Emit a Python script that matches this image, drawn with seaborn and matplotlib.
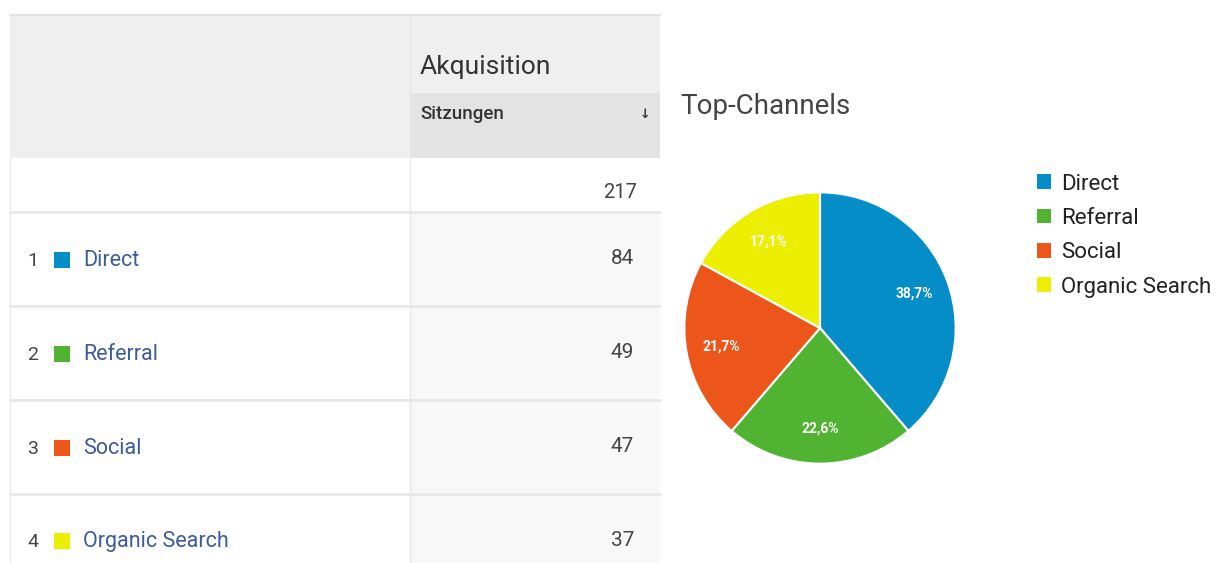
import matplotlib
matplotlib.use("Agg")
import matplotlib.pyplot as plt
from matplotlib.patches import Rectangle, Patch
import seaborn as sns

# ---- data ----
channels = ["Direct", "Referral", "Social", "Organic Search"]
sessions = [84, 49, 47, 37]
total_sessions = 217
channel_colors = ["#058DC7", "#50B432", "#ED561B", "#EDEF00"]
group_header = "Akquisition"
metric_header = "Sitzungen"
chart_title = "Top-Channels"

sns.set_theme(style="white")
plt.rcParams["font.family"] = ["Roboto", "DejaVu Sans"]
palette = sns.color_palette(channel_colors)

W, H = 1220, 563
fig = plt.figure(figsize=(W / 100, H / 100), dpi=100)
fig.patch.set_facecolor("white")

# pixel overlay axes for the table
tab = fig.add_axes([0, 0, 1, 1])
tab.set_xlim(0, W)
tab.set_ylim(H, 0)
tab.axis("off")

def rect(x0, y0, x1, y1, color, z=1):
    tab.add_patch(Rectangle((x0, y0), x1 - x0, y1 - y0, facecolor=color,
                            edgecolor="none", zorder=z))

# header
rect(10, 15, 660, 158, "#efefef")
rect(410, 93, 660, 158, "#e3e3e3")
tab.plot([10, 660], [15, 15], color="#e2e2e2", lw=1.5, zorder=2)
tab.plot([410, 410], [15, 563], color="#e6e6e6", lw=1, zorder=2)
tab.text(420, 67, group_header, fontsize=19, color="#333333", va="center", ha="left")
tab.text(420, 114, metric_header, fontsize=13.5, color="#333333", va="center",
         ha="left", fontweight="medium")
tab.text(645, 115, "↓", fontsize=9, color="#333333", va="center", ha="center",
         fontweight="bold", family=["DejaVu Sans"])

# total row
row_tops = [212, 306, 400, 494]
tab.text(637, 193, f"{total_sessions}", fontsize=14.5, color="#444444",
         va="center", ha="right")
tab.plot([10, 660], [212, 212], color="#e8e8e8", lw=2, zorder=3)

for i, (name, val, col) in enumerate(zip(channels, sessions, palette)):
    top = row_tops[i]
    bottom = top + 94
    rect(410, top, 660, min(bottom, H), "#f8f8f8")
    cy = top + 48 if i < 3 else top + 47
    tab.text(27, cy + 1, str(i + 1), fontsize=14, color="#444444", va="center", ha="left")
    rect(54, cy - 8, 70, cy + 8, col, z=3)
    tab.text(83, cy, name, fontsize=15.5, color="#3d5a9e", va="center", ha="left")
    tab.text(634, cy - 1, str(val), fontsize=15, color="#444444", va="center", ha="right")
    if i < 3:
        tab.plot([10, 660], [bottom, bottom], color="#e8e8e8", lw=2, zorder=3)
tab.plot([10, 10], [158, 563], color="#ececec", lw=1, zorder=2)

# chart title
tab.text(680, 107, chart_title, fontsize=20, color="#444444", va="center", ha="left")

# pie
cx, cy, r = 820, 328, 137
pie_ax = fig.add_axes([(cx - r) / W, (H - cy - r) / H, 2 * r / W, 2 * r / H])
wedges, texts, autotexts = pie_ax.pie(
    sessions, colors=palette, startangle=90, counterclock=False,
    autopct=lambda p: f"{p:.1f}%".replace(".", ","), pctdistance=0.74,
    wedgeprops=dict(edgecolor="white", linewidth=1.5),
    textprops=dict(color="white", fontsize=10, fontweight="bold"))
pie_ax.set_xlim(-1.01, 1.01)
pie_ax.set_ylim(-1.01, 1.01)

handles = [Patch(facecolor=c, edgecolor="none") for c in palette]
fig.legend(handles, channels, loc="upper left",
           bbox_to_anchor=(1037 / W, 1 - 173.5 / H), frameon=False,
           fontsize=16, handlelength=0.65, handleheight=0.65,
           handletextpad=0.45, labelspacing=0.6, labelcolor="#222222",
           borderpad=0, borderaxespad=0)

fig.savefig("out.png", dpi=100, facecolor="white")
